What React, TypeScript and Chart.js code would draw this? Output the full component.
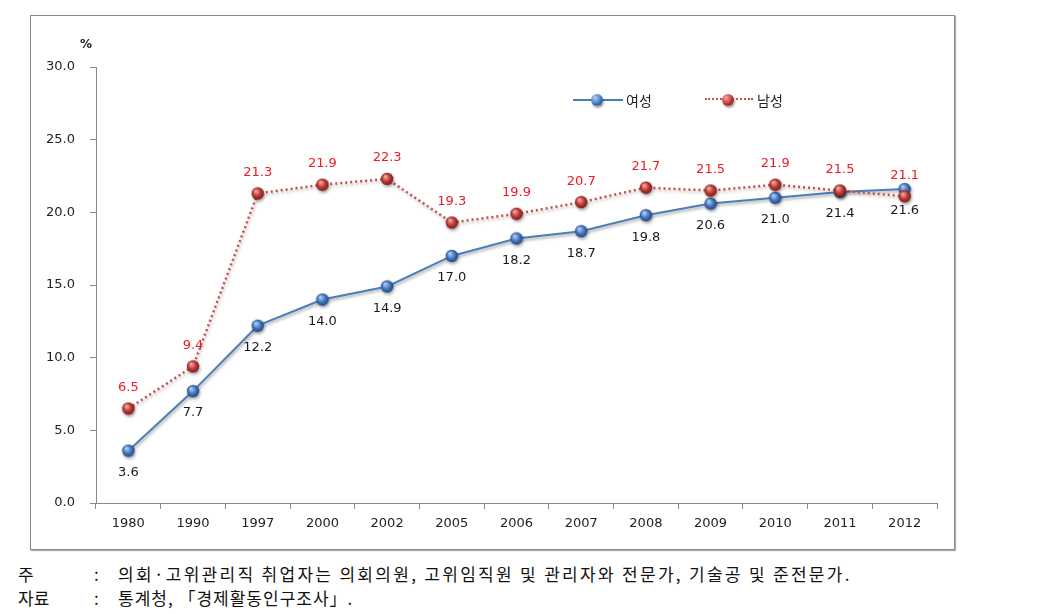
import React, { useEffect, useRef } from 'react';
import { Chart, registerables } from 'chart.js';

Chart.register(...registerables);

const years = ['1980', '1990', '1997', '2000', '2002', '2005', '2006', '2007', '2008', '2009', '2010', '2011', '2012'];
const female = [3.6, 7.7, 12.2, 14.0, 14.9, 17.0, 18.2, 18.7, 19.8, 20.6, 21.0, 21.4, 21.6];
const male = [6.5, 9.4, 21.3, 21.9, 22.3, 19.3, 19.9, 20.7, 21.7, 21.5, 21.9, 21.5, 21.1];
const seriesNames = ['여성', '남성'];
const yMin = 0;
const yMax = 30;
const yStep = 5;
const unitLabel = '%';
const note1 = '의회·고위관리직 취업자는 의회의원, 고위임직원 및 관리자와 전문가, 기술공 및 준전문가.';
const note2 = '통계청, 「경제활동인구조사」.';

const FONT = "'DejaVu Sans', Verdana, sans-serif";
const BLUE = '#4a7ebb';
const RED = '#c0504d';

function makeBall(light: string, base: string, dark: string): HTMLCanvasElement {
  const c = document.createElement('canvas');
  c.width = 14;
  c.height = 14;
  const ctx = c.getContext('2d')!;
  const g = ctx.createRadialGradient(5, 4.5, 0.5, 7, 7, 7);
  g.addColorStop(0, light);
  g.addColorStop(0.55, base);
  g.addColorStop(1, dark);
  ctx.fillStyle = g;
  ctx.beginPath();
  ctx.arc(7, 7, 6.2, 0, Math.PI * 2);
  ctx.fill();
  return c;
}

const labelPlugin = {
  id: 'valueLabels',
  afterDatasetsDraw(chart: any) {
    const ctx = chart.ctx;
    ctx.save();
    ctx.font = `13px ${FONT}`;
    ctx.textAlign = 'center';
    ctx.textBaseline = 'middle';
    chart.data.datasets.forEach((ds: any, i: number) => {
      const meta = chart.getDatasetMeta(i);
      const below = i === 0;
      ctx.fillStyle = below ? '#1a1a1a' : '#f01a24';
      meta.data.forEach((pt: any, j: number) => {
        const v = Number(ds.data[j]).toFixed(1);
        ctx.fillText(v, pt.x, pt.y + (below ? 22 : -21));
      });
    });
    ctx.restore();
  },
};

const shadowPlugin = {
  id: 'lineShadow',
  beforeDatasetDraw(chart: any) {
    const ctx = chart.ctx;
    ctx.save();
    ctx.shadowColor = 'rgba(0,0,0,0.35)';
    ctx.shadowOffsetX = 1;
    ctx.shadowOffsetY = 2;
    ctx.shadowBlur = 3;
  },
  afterDatasetDraw(chart: any) {
    chart.ctx.restore();
  },
};

function ChartCanvas() {
  const ref = useRef<HTMLCanvasElement | null>(null);
  useEffect(() => {
    if (!ref.current) return;
    const blueBall = makeBall('#b5cff2', '#3d72bd', '#1d3f6e');
    const redBall = makeBall('#f2aaa6', '#b9342f', '#6a1815');
    const chart = new Chart(ref.current, {
      type: 'line',
      data: {
        labels: years,
        datasets: [
          {
            label: seriesNames[0],
            data: female,
            borderColor: BLUE,
            backgroundColor: BLUE,
            borderWidth: 2,
            pointStyle: blueBall as any,
            pointRadius: 6,
            tension: 0,
            order: 2,
          },
          {
            label: seriesNames[1],
            data: male,
            borderColor: RED,
            backgroundColor: RED,
            borderWidth: 2.5,
            borderDash: [2, 3],
            pointStyle: redBall as any,
            pointRadius: 6,
            tension: 0,
            order: 1,
          },
        ],
      },
      options: {
        animation: false,
        responsive: false,
        maintainAspectRatio: false,
        layout: { padding: { left: 0, top: 52, right: 18, bottom: 0 } },
        plugins: { legend: { display: false }, tooltip: { enabled: false } },
        scales: {
          x: {
            offset: true,
            grid: { offset: true, drawOnChartArea: false, tickLength: 6, color: '#888' },
            border: { color: '#888' },
            ticks: { font: { family: FONT, size: 13 }, color: '#222', padding: 7, maxRotation: 0 },
            afterFit: (s: any) => {
              s.height = 47;
            },
          },
          y: {
            min: yMin,
            max: yMax,
            grid: { drawOnChartArea: false, tickLength: 6, color: '#888' },
            border: { color: '#888' },
            ticks: {
              stepSize: yStep,
              font: { family: FONT, size: 13 },
              color: '#222',
              padding: 15,
              callback: (v: any) => Number(v).toFixed(1),
            },
            afterFit: (s: any) => {
              s.width = 66;
            },
          },
        },
      },
      plugins: [shadowPlugin, labelPlugin],
    });
    return () => chart.destroy();
  }, []);
  return (
    <canvas
      ref={ref}
      width={925}
      height={535}
      style={{ position: 'absolute', left: 30, top: 15, width: 925, height: 535 }}
    />
  );
}

const ballCss = (light: string, base: string, dark: string): React.CSSProperties => ({
  position: 'absolute',
  width: 12,
  height: 12,
  borderRadius: '50%',
  background: `radial-gradient(circle at 35% 32%, ${light} 0%, ${base} 55%, ${dark} 100%)`,
  boxShadow: '1px 2px 2px rgba(0,0,0,0.35)',
});

export default function App() {
  return (
    <div
      style={{
        position: 'absolute',
        left: 0,
        top: 0,
        width: 1046,
        height: 614,
        background: '#fff',
        overflow: 'hidden',
      }}
    >
      <div
        style={{
          position: 'absolute',
          left: 30,
          top: 15,
          width: 925,
          height: 535,
          boxSizing: 'border-box',
          border: '1px solid #8a8a8a',
          boxShadow: '1px 1px 1px #b0b0b0',
        }}
      />
      <ChartCanvas />
      <div
        style={{
          position: 'absolute',
          left: 80,
          top: 37,
          font: `bold 12px ${FONT}`,
          color: '#222',
        }}
      >
        {unitLabel}
      </div>
      {/* legend */}
      <div style={{ position: 'absolute', left: 573, top: 99, width: 50, height: 2, background: BLUE }} />
      <div style={{ ...ballCss('#b5cff2', '#3d72bd', '#1d3f6e'), left: 591, top: 94 }} />
      <div
        style={{
          position: 'absolute',
          left: 626,
          top: 90,
          font: "14px 'Noto Sans CJK KR', sans-serif",
          lineHeight: '20px',
          color: '#222',
        }}
      >
        {seriesNames[0]}
      </div>
      <div
        style={{
          position: 'absolute',
          left: 705,
          top: 98,
          width: 48,
          height: 0,
          borderTop: `2.5px dotted ${RED}`,
        }}
      />
      <div style={{ ...ballCss('#f2aaa6', '#b9342f', '#6a1815'), left: 722, top: 94 }} />
      <div
        style={{
          position: 'absolute',
          left: 757,
          top: 90,
          font: "14px 'Noto Sans CJK KR', sans-serif",
          lineHeight: '20px',
          color: '#222',
        }}
      >
        {seriesNames[1]}
      </div>
      {/* footnotes */}
      <div
        style={{
          position: 'absolute',
          left: 18,
          top: 562,
          font: "17px 'Noto Sans CJK KR', serif",
          lineHeight: '24px',
          color: '#111',
          whiteSpace: 'nowrap',
        }}
      >
        <div style={{ position: 'relative', height: 24 }}>
          <span style={{ position: 'absolute', left: 0 }}>주</span>
          <span style={{ position: 'absolute', left: 76 }}>:</span>
          <span style={{ position: 'absolute', left: 100, letterSpacing: '2.3px' }}>{note1}</span>
        </div>
        <div style={{ position: 'relative', height: 24 }}>
          <span style={{ position: 'absolute', left: 0 }}>자료</span>
          <span style={{ position: 'absolute', left: 76 }}>:</span>
          <span style={{ position: 'absolute', left: 100, letterSpacing: '1px' }}>{note2}</span>
        </div>
      </div>
    </div>
  );
}
